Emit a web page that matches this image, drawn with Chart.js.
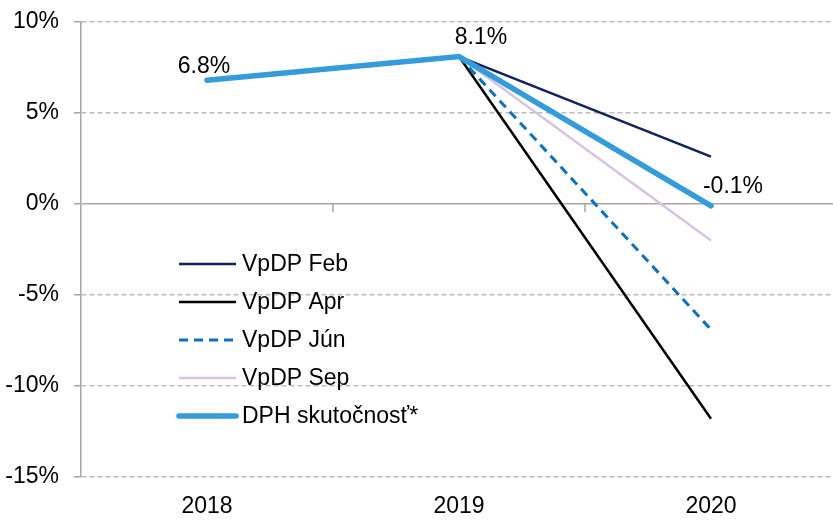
<!DOCTYPE html>
<html>
<head>
<meta charset="utf-8">
<script src="https://cdn.jsdelivr.net/npm/chart.js@4/dist/chart.umd.min.js"></script>
<style>
  html, body { margin: 0; padding: 0; background: #fff; }
  #wrap { width: 833px; height: 520px; overflow: hidden; }
  canvas { display: block; }
</style>
</head>
<body>
<div id="wrap"><canvas id="vatChart" width="837" height="520"></canvas></div>
<script>
// roky
const years = ['2018', '2019', '2020'];

// odhady VpDP a skutočnosť (medziročná zmena, %)
const vpdpFeb = [null, 8.1, 2.6];
const vpdpApr = [null, 8.1, -11.8];
const vpdpJun = [null, 8.1, -6.9];
const vpdpSep = [null, 8.1, -2.0];
const dphActual = [6.8, 8.1, -0.1];

const yTicks = [-15, -10, -5, 0, 5, 10];

const FONT = "'Liberation Sans', Arial, sans-serif";
const FSIZE = 23;

// posuny popiskov hodnôt voči bodu [dx, dy]
const labelShift = [[-3, -7], [22, -13], [22, -13]];

const datasets = [
    { label: 'VpDP Feb', data: vpdpFeb, borderColor: '#0f2160', borderWidth: 2.5, order: 4 },
    { label: 'VpDP Apr', data: vpdpApr, borderColor: '#000000', borderWidth: 2.5, order: 3 },
    { label: 'VpDP Jún', data: vpdpJun, borderColor: '#0a72c2', borderWidth: 3, borderDash: [9, 6], order: 2 },
    { label: 'VpDP Sep', data: vpdpSep, borderColor: '#d7c4e2', borderWidth: 2.5, order: 1 },
    { label: 'DPH skutočnosť*', data: dphActual, borderColor: '#349cdb', borderWidth: 5.5, borderCapStyle: 'round', order: 0 }
];

// vlastná legenda vo vnútri grafu
const legendPlugin = {
    id: 'insideLegend',
    afterDraw(chart) {
        const c = chart.ctx;
        c.save();
        c.font = FSIZE + 'px ' + FONT;
        c.textBaseline = 'middle';
        c.fillStyle = '#000';
        chart.data.datasets.forEach((ds, i) => {
            const y = 264 + i * 38;
            c.strokeStyle = ds.borderColor;
            c.lineWidth = ds.borderWidth;
            c.lineCap = ds.borderCapStyle || 'butt';
            c.setLineDash(ds.borderDash || []);
            c.beginPath();
            c.moveTo(179, y);
            c.lineTo(236, y);
            c.stroke();
            c.fillText(ds.label, 242, y + 1);
        });
        c.restore();
    }
};

// popisky hodnôt pri skutočnosti + zárezy na nulovej osi
const extrasPlugin = {
    id: 'extras',
    beforeDatasetsDraw(chart) {
        const c = chart.ctx;
        const x = chart.scales.x;
        const y0 = chart.scales.y.getPixelForValue(0);
        c.save();
        c.strokeStyle = '#a6a6a6';
        c.lineWidth = 1.5;
        for (let i = 0; i < years.length - 1; i++) {
            const bx = (x.getPixelForValue(i) + x.getPixelForValue(i + 1)) / 2;
            c.beginPath();
            c.moveTo(bx, y0);
            c.lineTo(bx, y0 + 8);
            c.stroke();
        }
        c.restore();
    },
    afterDatasetsDraw(chart) {
        const c = chart.ctx;
        const idx = chart.data.datasets.length - 1;
        const meta = chart.getDatasetMeta(idx);
        c.save();
        c.font = FSIZE + 'px ' + FONT;
        c.fillStyle = '#000';
        c.textAlign = 'center';
        c.textBaseline = 'alphabetic';
        meta.data.forEach((pt, i) => {
            const v = dphActual[i];
            if (v === null) return;
            c.fillText(v.toFixed(1) + '%', pt.x + labelShift[i][0], pt.y + labelShift[i][1]);
        });
        c.restore();
    }
};

new Chart(document.getElementById('vatChart'), {
    type: 'line',
    data: { labels: years, datasets: datasets },
    options: {
        responsive: false,
        animation: false,
        layout: { padding: { top: 22, right: 0, bottom: 0, left: 0 } },
        elements: {
            point: { radius: 0, hoverRadius: 0 },
            line: { tension: 0, fill: false }
        },
        plugins: {
            legend: { display: false },
            tooltip: { enabled: false }
        },
        scales: {
            x: {
                offset: true,
                grid: { display: false, drawTicks: false },
                border: { display: false },
                ticks: { color: '#000', font: { family: FONT, size: FSIZE }, padding: 16, maxRotation: 0 },
                afterFit(scale) { scale.height = 43; scale.paddingLeft = 0; scale.paddingRight = 0; }
            },
            y: {
                min: -15,
                max: 10,
                afterBuildTicks(scale) { scale.ticks = yTicks.map(v => ({ value: v })); },
                ticks: {
                    color: '#000',
                    font: { family: FONT, size: FSIZE },
                    padding: 15,
                    callback: v => v + '%'
                },
                grid: {
                    color: ctx => ctx.tick && ctx.tick.value === 0 ? '#a6a6a6' : '#bdbdbd',
                    lineWidth: 1.5,
                    tickLength: 7,
                    tickColor: '#a6a6a6',
                    tickBorderDash: []
                },
                border: {
                    display: true,
                    color: '#a6a6a6',
                    width: 1.5,
                    dash: ctx => (ctx.type === 'tick' && ctx.tick && ctx.tick.value !== 0) ? [5, 3] : []
                },
                afterFit(scale) { scale.width = 81; scale.paddingTop = 0; scale.paddingBottom = 0; }
            }
        }
    },
    plugins: [extrasPlugin, legendPlugin]
});
</script>
</body>
</html>
